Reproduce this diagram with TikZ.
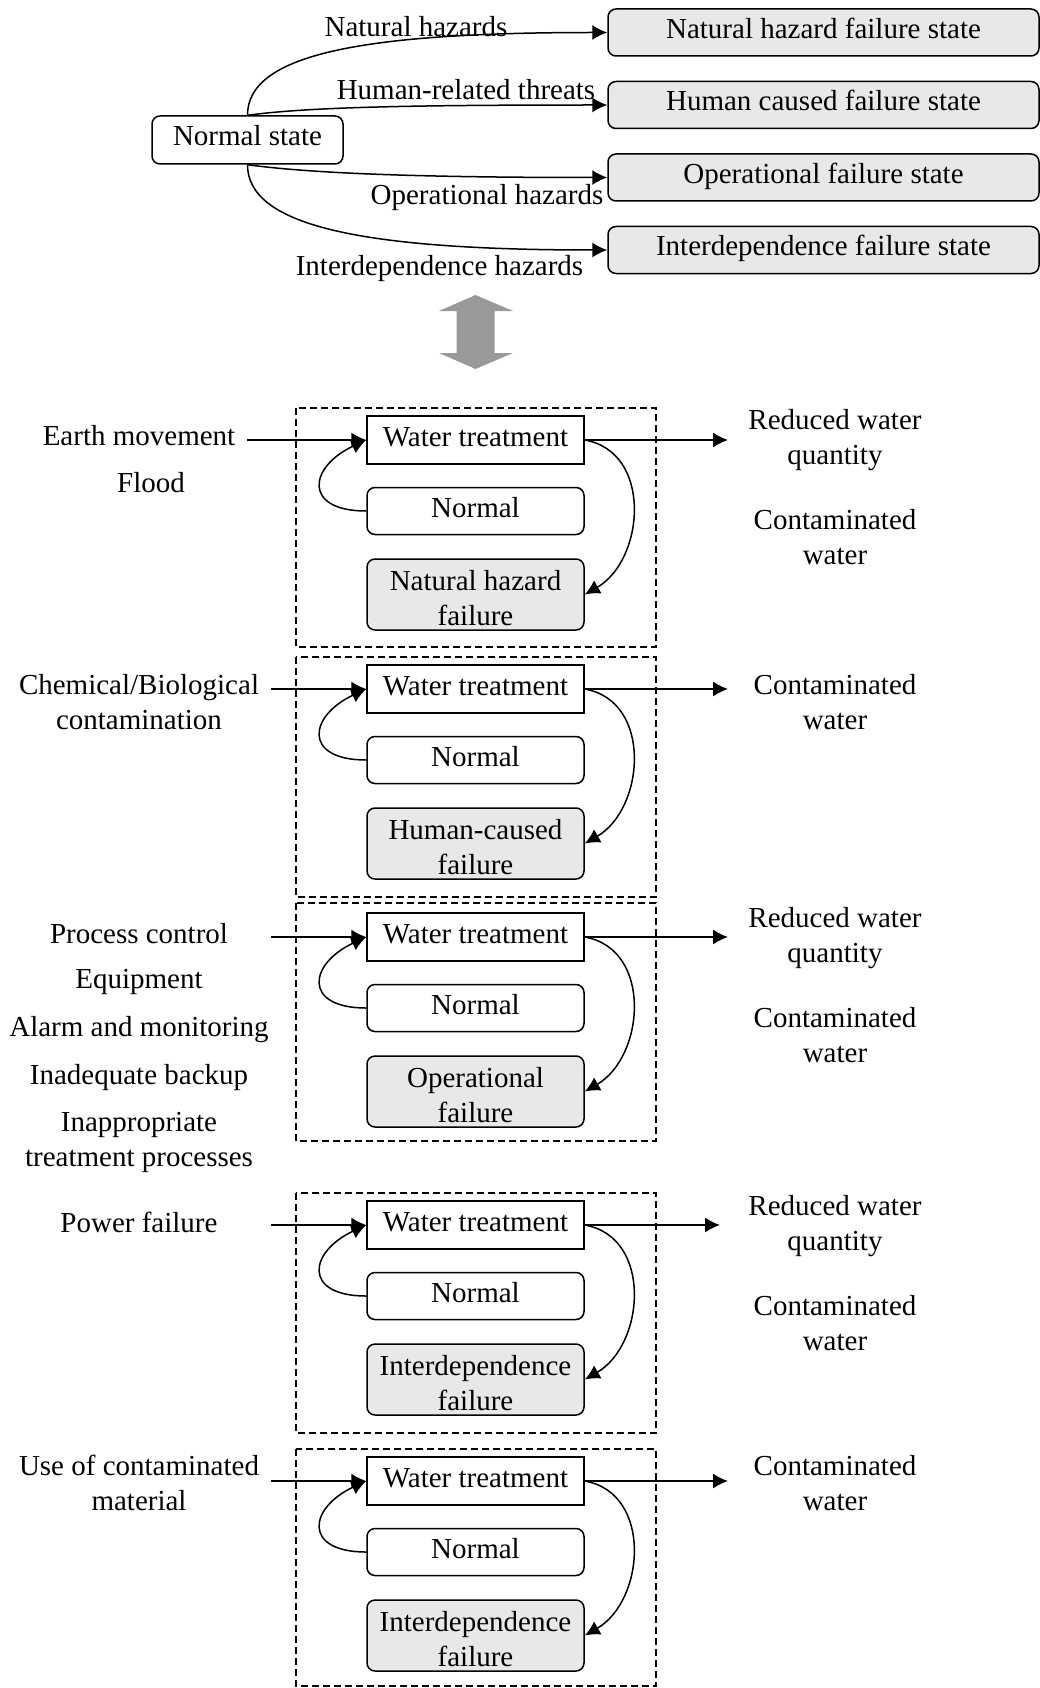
\documentclass[tikz,border=0pt]{standalone}
\usepackage{fontspec}
\setmainfont{Liberation Serif}
\usepackage{tikz}
\usetikzlibrary{positioning, arrows.meta}
\newcommand{\statefont}{\fontsize{29}{35}\selectfont}
\tikzstyle{box} = [rectangle, rounded corners=8pt, text centered, align=center,
    draw=black, line width=1.5pt, inner sep=0pt, font=\statefont]
\tikzstyle{state} = [box, minimum width=191pt, minimum height=48pt,
    text height=20pt, text depth=8pt]
\tikzstyle{failstate} = [state, fill=black!9, minimum width=431pt, minimum height=47pt]
\tikzstyle{treatbox} = [state, sharp corners, minimum width=217pt]
\tikzstyle{okbox} = [state, minimum width=217pt, minimum height=47pt]
\tikzstyle{failbox} = [box, fill=black!9, minimum width=217pt, minimum height=71pt,
    text height=62pt, text depth=0pt]
\tikzstyle{hazard} = [align=center, inner sep=0pt, font=\statefont]
\tikzstyle{arrow} = [line width=1.5pt, ->, >={Latex[length=15pt, width=15pt]}]
\tikzstyle{panel} = [draw=black, line width=1.5pt, dash pattern=on 7pt off 4pt]

\begin{document}
\begin{tikzpicture}[x=1pt, y=1pt]
            \useasboundingbox (0,0) rectangle (1040,-1688);
            % States
            \node[state] (ns) at (247.5,-140) {Normal state};
            \node[failstate] (fs1) at (823.5,-32.5) {Natural hazard failure state};
            \node[failstate, below=24pt of fs1] (fs2) {Human caused failure state};
            \node[failstate, below=24pt of fs2] (fs3) {Operational failure state};
            \node[failstate, below=24pt of fs3] (fs4) {Interdependence failure state};
            \node[hazard] (nat) at (416,-27) {Natural hazards};
            \node[hazard] (hum) at (466,-90) {Human-related threats};
            \node[hazard] (ope) at (487,-198) {Operational hazards};
            \node[hazard] (int) at (439.5,-269) {Interdependence hazards};
            % Arrows
            \draw[arrow] (ns.north) .. controls +(0,60) and +(-250,0) .. (fs1.west);
            \draw[arrow] (ns.north) .. controls +(60,8) and +(-200,0) .. (fs2.west);
            \draw[arrow] (ns.south) .. controls +(60,-8) and +(-200,0) .. (fs3.west);
            \draw[arrow] (ns.south) .. controls +(0,-60) and +(-250,0) .. (fs4.west);
            % Double arrow
            \fill[black!40] (439,-311) -- (475.5,-295) -- (513,-311) -- (494.5,-311)
                -- (494.5,-353) -- (513,-353) -- (475.5,-369) -- (439,-353)
                -- (456.5,-353) -- (456.5,-311) -- cycle;

            % Panel 1
            \draw[panel] (296,-408) rectangle (656,-647);
            \node[treatbox] (wt1) at (475.5,-440) {Water treatment};
            \node[okbox, below=22pt of wt1] (ok1) {Normal};
            \node[failbox, below=23pt of ok1] (fail1) {Natural hazard\\failure};
            \node[hazard] (earth) at (139,-436) {Earth movement};
            \node[hazard] (flood) at (151,-483) {Flood};
            \node[hazard] (rwq1) at (835,-440) {Reduced water\\quantity};
            \node[hazard] (cw1) at (835,-537) {Contaminated\\water};
            \coordinate (in1) at (247,-440);
            \coordinate (out1) at (728,-440);
            \draw[arrow] (in1) -- (wt1);
            \draw[arrow] (ok1.west) to[out=180, in=205, looseness=2.3] (wt1.west);
            \draw[arrow] (wt1.east) to[out=-10, in=30, looseness=1.15] (fail1.east);
            \draw[arrow] (wt1.east) -- (out1);

            % Panel 2
            \draw[panel] (296,-657) rectangle (656,-897);
            \node[treatbox] (wt2) at (475.5,-689) {Water treatment};
            \node[okbox, below=22pt of wt2] (ok2) {Normal};
            \node[failbox, below=23pt of ok2] (fail2) {Human-caused\\failure};
            \node[hazard] (chem) at (139,-702) {Chemical/Biological\\contamination};
            \node[hazard] (cw2) at (835,-702) {Contaminated\\water};
            \coordinate (in2) at (271,-689);
            \coordinate (out2) at (728,-689);
            \draw[arrow] (in2) -- (wt2);
            \draw[arrow] (ok2.west) to[out=180, in=205, looseness=2.3] (wt2.west);
            \draw[arrow] (wt2.east) to[out=-10, in=30, looseness=1.15] (fail2.east);
            \draw[arrow] (wt2.east) -- (out2);

            % Panel 3
            \draw[panel] (296,-903) rectangle (656,-1141);
            \node[treatbox] (wt3) at (475.5,-937) {Water treatment};
            \node[okbox, below=22pt of wt3] (ok3) {Normal};
            \node[failbox, below=23pt of ok3] (fail3) {Operational\\failure};
            \node[hazard] (proc) at (139,-934) {Process control};
            \node[hazard] (equip) at (139,-982) {Equipment};
            \node[hazard] (alarm) at (139,-1030) {Alarm and monitoring};
            \node[hazard] (backup) at (139,-1078) {Inadequate backup};
            \node[hazard] (inapp) at (139,-1142) {Inappropriate\\treatment processes};
            \node[hazard] (rwq3) at (835,-938) {Reduced water\\quantity};
            \node[hazard] (cw3) at (835,-1035) {Contaminated\\water};
            \coordinate (in3) at (271,-937);
            \coordinate (out3) at (728,-937);
            \draw[arrow] (in3) -- (wt3);
            \draw[arrow] (ok3.west) to[out=180, in=205, looseness=2.3] (wt3.west);
            \draw[arrow] (wt3.east) to[out=-10, in=30, looseness=1.15] (fail3.east);
            \draw[arrow] (wt3.east) -- (out3);

            % Panel 4
            \draw[panel] (296,-1193) rectangle (656,-1433);
            \node[treatbox] (wt4) at (475.5,-1225) {Water treatment};
            \node[okbox, below=22pt of wt4] (ok4) {Normal};
            \node[failbox, below=23pt of ok4] (fail4) {Interdependence\\failure};
            \node[hazard] (power) at (139,-1222) {Power failure};
            \node[hazard] (rwq4) at (835,-1226) {Reduced water\\quantity};
            \node[hazard] (cw4) at (835,-1323) {Contaminated\\water};
            \coordinate (in4) at (271,-1225);
            \coordinate (out4) at (720,-1225);
            \draw[arrow] (in4) -- (wt4);
            \draw[arrow] (ok4.west) to[out=180, in=205, looseness=2.3] (wt4.west);
            \draw[arrow] (wt4.east) to[out=-10, in=30, looseness=1.15] (fail4.east);
            \draw[arrow] (wt4.east) -- (out4);

            % Panel 5
            \draw[panel] (296,-1449) rectangle (656,-1686);
            \node[treatbox] (wt5) at (475.5,-1481) {Water treatment};
            \node[okbox, below=22pt of wt5] (ok5) {Normal};
            \node[failbox, below=23pt of ok5] (fail5) {Interdependence\\failure};
            \node[hazard] (usecm) at (139,-1483) {Use of contaminated\\material};
            \node[hazard] (cw5) at (835,-1483) {Contaminated\\water};
            \coordinate (in5) at (271,-1481);
            \coordinate (out5) at (728,-1481);
            \draw[arrow] (in5) -- (wt5);
            \draw[arrow] (ok5.west) to[out=180, in=205, looseness=2.3] (wt5.west);
            \draw[arrow] (wt5.east) to[out=-10, in=30, looseness=1.15] (fail5.east);
            \draw[arrow] (wt5.east) -- (out5);
        \end{tikzpicture}
\end{document}
